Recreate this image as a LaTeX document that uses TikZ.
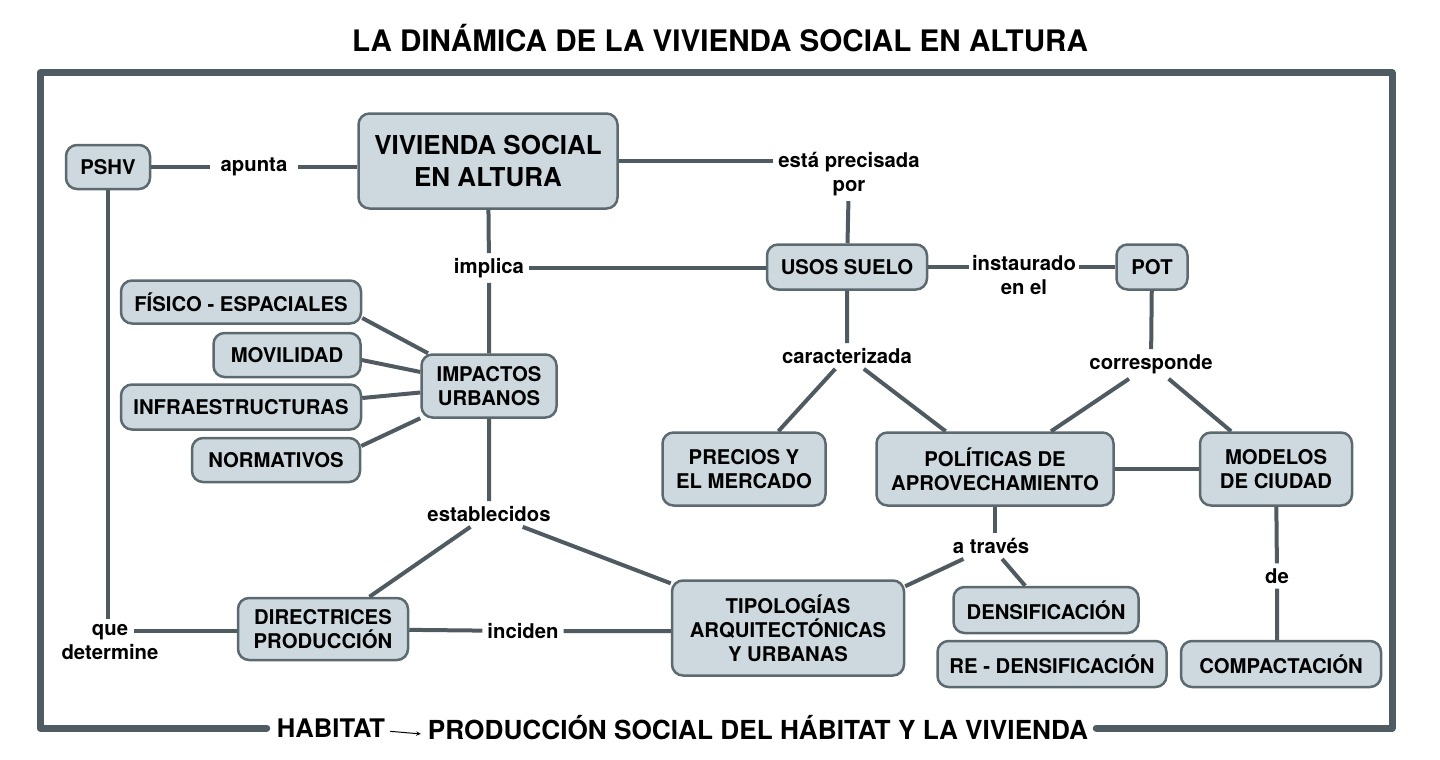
\documentclass[tikz,border=0pt]{standalone}
\usepackage{fontspec}
\setmainfont{TeX Gyre Heros}
\usepackage{tikz}
\usetikzlibrary{arrows,shapes,positioning,calc}
\definecolor{marco}{HTML}{4F5D63}
\definecolor{borde}{HTML}{5C6A70}
\definecolor{relleno}{HTML}{CDD9DE}
\definecolor{trazo}{HTML}{4F5B61}

\begin{document}
\begin{tikzpicture}[x=1pt,y=-1pt]
                \tikzstyle{every node}+=[font=\bfseries\fontsize{20.3}{24}\selectfont, align=center]
                \tikzstyle{concepto}=[draw=borde, fill=relleno, line width=2.5pt, rounded corners=11pt, inner sep=0pt]
                \tikzstyle{frase}=[inner sep=5pt]
                \tikzstyle{linea}=[draw=trazo, line width=4pt]
                \useasboundingbox (0,0) rectangle (1440,760);
                \node (titulo) at (720,38) [font=\bfseries\fontsize{29.6}{35}\selectfont] {LA DINÁMICA DE LA VIVIENDA SOCIAL EN ALTURA};
                \node (habitat) at (331,728) [font=\bfseries\fontsize{25.6}{30}\selectfont, inner xsep=10pt] {HABITAT};
                \node (produccion) at (758,728) [font=\bfseries\fontsize{26.2}{30}\selectfont, inner xsep=8pt] {PRODUCCIÓN SOCIAL DEL HÁBITAT Y LA VIVIENDA};
                \draw [marco, line width=7pt, line cap=round, line join=round] (habitat.west) -| (40,73) -- (1392,73) |- (produccion.east);
                \draw [-stealth, line width=1pt] ([xshift=-5pt,yshift=6pt]habitat.base east) -- ([xshift=1pt,yshift=6pt]produccion.base west);
                \node (pshv) at (108,167) [concepto, minimum width=84, minimum height=44] {PSHV};
                \node (vivienda) at (488,161) [concepto, minimum width=259, minimum height=95, font=\bfseries\fontsize{26}{32}\selectfont] {VIVIENDA SOCIAL\\EN ALTURA};
                \node (apunta) at (254,167) [frase, inner xsep=10pt] {apunta};
                \node (precisada) at (849,174) [frase] {está precisada\\por};
                \node (usos) at (847,267) [concepto, minimum width=160, minimum height=45] {USOS SUELO};
                \node (implica) at (489,268) [frase] {implica};
                \node (instaurado) at (1024,275) [frase, inner sep=3pt] {instaurado\\en el};
                \node (pot) at (1152,267) [concepto, minimum width=71, minimum height=45] {POT};
                \node (fisico) at (241,302) [concepto, minimum width=240, minimum height=43] {FÍSICO - ESPACIALES};
                \node (movilidad) at (287,355) [concepto, minimum width=147, minimum height=44] {MOVILIDAD};
                \node (infra) at (241,407) [concepto, minimum width=240, minimum height=45] {INFRAESTRUCTURAS};
                \node (normativos) at (276,460) [concepto, minimum width=168, minimum height=44] {NORMATIVOS};
                \node (impactos) at (489,386) [concepto, minimum width=135, minimum height=63] {IMPACTOS\\URBANOS};
                \node (caracterizada) at (847,356) [frase] {caracterizada};
                \node (corresponde) at (1151,364) [frase] {corresponde};
                \node (precios) at (744,469) [concepto, minimum width=163, minimum height=73] {PRECIOS Y\\EL MERCADO};
                \node (politicas) at (995,469) [concepto, minimum width=237, minimum height=73] {POLÍTICAS DE\\APROVECHAMIENTO};
                \node (modelos) at (1276,469) [concepto, minimum width=152, minimum height=73] {MODELOS\\DE CIUDAD};
                \node (establecidos) at (489,514) [frase] {establecidos};
                \node (atraves) at (991,546) [frase] {a través};
                \node (de) at (1277,576) [frase] {de};
                \node (directrices) at (323,629) [concepto, minimum width=170, minimum height=62] {DIRECTRICES\\PRODUCCIÓN};
                \node (inciden) at (523,631) [frase] {inciden};
                \node (quedet) at (110,642) [frase] {que\\determine};
                \node (tipologias) at (788,628) [concepto, minimum width=232, minimum height=95] {TIPOLOGÍAS\\ARQUITECTÓNICAS\\Y URBANAS};
                \node (densificacion) at (1046,610) [concepto, minimum width=185, minimum height=46] {DENSIFICACIÓN};
                \node (redensificacion) at (1052,664) [concepto, minimum width=229, minimum height=46] {RE - DENSIFICACIÓN};
                \node (compactacion) at (1281,664) [concepto, minimum width=200, minimum height=46] {COMPACTACIÓN};
                \draw [linea] (pshv) -- (apunta) -- (vivienda.west |- apunta);
                \draw [linea] (vivienda) -- (vivienda -| precisada.west);
                \draw [linea] (precisada) -- (usos);
                \draw [linea] (vivienda) -- (implica) -- (impactos);
                \draw [linea] (implica) -- (usos.west |- implica);
                \draw [linea] (usos) -- (usos -| instaurado.west);
                \draw [linea] (instaurado.east |- pot) -- (pot);
                \draw [linea] (usos) -- (caracterizada) -- (precios);
                \draw [linea] (caracterizada) -- (politicas);
                \draw [linea] (pot) -- (corresponde) -- (politicas);
                \draw [linea] (corresponde) -- (modelos);
                \draw [linea] (politicas) -- (modelos);
                \draw [linea] ([yshift=-16pt]fisico.east) -- (impactos);
                \draw [linea] ([yshift=-5pt]movilidad.east) -- (impactos);
                \draw [linea] ([yshift=9pt]infra.east) -- (impactos);
                \draw [linea] ([yshift=14pt]normativos.east) -- (impactos);
                \draw [linea] (impactos) -- (establecidos) -- (directrices);
                \draw [linea] (establecidos) -- (tipologias);
                \draw [linea] (directrices) -- (inciden) -- (tipologias.west |- inciden);
                \draw [linea] (pshv) -- (pshv |- quedet.north);
                \draw [linea] (directrices.west |- inciden) -- ($(quedet.east |- inciden)+(-30,0)$);
                \draw [linea] (politicas.south) -- (politicas.south |- atraves.north);
                \draw [linea] (atraves) -- ([yshift=-7pt]tipologias.north east);
                \draw [linea] (atraves) -- (densificacion);
                \draw [linea] (modelos) -- (de) -- (de |- compactacion.north);
            \end{tikzpicture}
\end{document}
